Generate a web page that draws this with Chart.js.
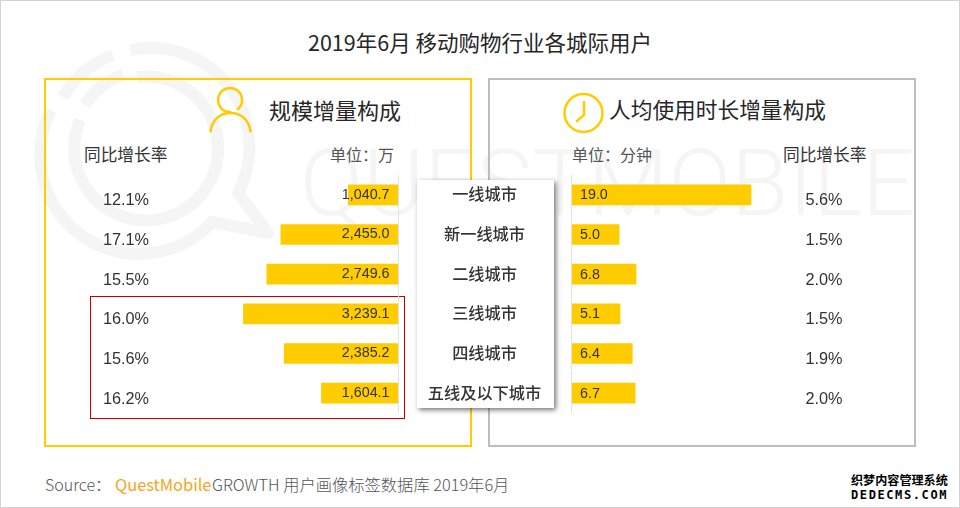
<!DOCTYPE html>
<html><head><meta charset="utf-8">
<style>
html,body{margin:0;padding:0;background:#fff}
#page{position:relative;width:960px;height:508px;overflow:hidden;font-family:"Noto Sans CJK SC","Noto Sans",sans-serif;color:#333}
.abs{position:absolute;white-space:nowrap}
canvas{position:absolute}
</style></head><body>
<div id="page">
<svg class="abs" style="left:0;top:0" width="960" height="508" viewBox="0 0 960 508">
 <g fill="none" stroke="#f5f5f5" stroke-width="12">
  <path d="M63 97 A99 99 0 0 1 113 55"/>
  <path d="M130 50 A99 99 0 0 1 238 193 L268 233 L212 222 A99 99 0 0 1 51 110" stroke-linejoin="round"/>
  <path d="M85 105 A74 74 0 0 1 123 75"/>
  <path d="M137 77 A72 72 0 1 1 80 120"/>
 </g>
 <text x="300" y="215" textLength="615" lengthAdjust="spacingAndGlyphs" font-family="Roboto" font-weight="300" font-size="92" fill="#f5f5f5">QUESTMOBILE</text>
</svg>
<div class="abs" style="left:44px;top:78px;width:424px;height:365px;border:2px solid #ffcc00"></div>
<div class="abs" style="left:488px;top:78px;width:424px;height:365px;border:2px solid #bdbdbd"></div>
<div class="abs" style="left:90px;top:296px;width:313px;height:121px;border:1px solid #c00000"></div>
<div class="abs" style="left:0;top:0;width:958px;height:506px;border:1px solid #d4d4d4"></div>
<div class="abs" style="left:0;top:27px;width:960px;text-align:center;font-size:21.5px;line-height:30px;color:#262626">2019年6月 移动购物行业各城际用户</div>
<svg class="abs" style="left:0;top:0" width="960" height="508" viewBox="0 0 960 508">
 <g fill="none" stroke="#ffcc00" stroke-width="2.5" stroke-linecap="round">
  <path d="M238 109 A12 12 0 1 0 230 112"/>
  <path d="M210.500 131.500 C212 120 220 113 230.500 113 C241 113 249 120 250.500 131.500"/>
  <circle cx="583.500" cy="113" r="19"/>
  <path d="M584 102 L584 115 L577 121"/>
 </g>
</svg>
<div class="abs" style="left:269px;top:93px;font-size:22px;line-height:32px;color:#262626">规模增量构成</div>
<div class="abs" style="left:609px;top:93px;font-size:21.7px;line-height:32px;color:#262626">人均使用时长增量构成</div>
<div class="abs" style="left:84px;top:142px;font-size:16.7px;line-height:24px;color:#333">同比增长率</div>
<div class="abs" style="left:330px;top:142px;font-size:16px;line-height:24px;color:#555">单位：万</div>
<div class="abs" style="left:572px;top:142px;font-size:16px;line-height:24px;color:#555">单位：分钟</div>
<div class="abs" style="left:783px;top:142px;font-size:16.7px;line-height:24px;color:#333">同比增长率</div>
<canvas id="left" style="left:60px;top:175px" width="339" height="238"></canvas>
<canvas id="right" style="left:417px;top:175px;z-index:2" width="480" height="238"></canvas>
<div class="abs" style="left:417px;top:180px;width:137px;height:228px;background:#fff;box-shadow:2px 2px 5px rgba(0,0,0,.55);z-index:1"></div>
<div class="abs" style="left:45px;top:472px;font-size:16px;line-height:24px;color:#555;font-weight:300">Source：</div>
<div class="abs" style="left:115px;top:472px;font-size:16.5px;line-height:24px;color:#f5a623;letter-spacing:-.05px">QuestMobile</div>
<div class="abs" style="left:212px;top:472px;font-size:16.3px;line-height:24px;color:#555;font-weight:300">GROWTH 用户画像标签数据库 2019年6月</div>
<div class="abs" style="left:851px;top:472px;font-size:12.1px;line-height:16px;color:#000;font-weight:700">织梦内容管理系统</div>
<div class="abs" style="left:851px;top:488px;font:700 12px/15px 'DejaVu Sans Mono';color:#000;letter-spacing:1.6px">DEDECMS.COM</div>
</div>
<script src="https://cdn.jsdelivr.net/npm/chart.js@4"></script>
<script>
const cities=["一线城市","新一线城市","二线城市","三线城市","四线城市","五线及以下城市"];
const scaleValues=[1040.7,2455.0,2749.6,3239.1,2385.2,1604.1];
const scaleGrowth=["12.1%","17.1%","15.5%","16.0%","15.6%","16.2%"];
const timeValues=[19.0,5.0,6.8,5.1,6.4,6.7];
const timeGrowth=["5.6%","1.5%","2.0%","1.5%","1.9%","2.0%"];
const BAR="#ffcc00",AXIS="#e2e2e2",NUM="14.3px 'Liberation Sans'";

function text(ctx,s,x,y,font,color,align){ctx.save();ctx.font=font;ctx.fillStyle=color;ctx.textAlign=align;ctx.textBaseline="middle";ctx.fillText(s,x,y);ctx.restore();}

const leftPlugin={id:"leftLabels",afterDatasetsDraw(c){
  const x0=c.scales.x.getPixelForValue(0);
  c.getDatasetMeta(0).data.forEach((b,i)=>{
    text(c.ctx,scaleValues[i].toLocaleString("en-US",{minimumFractionDigits:1}),x0-8.5,b.y,NUM,"#333","right");
    text(c.ctx,scaleGrowth[i],x0-272,b.y+6,"16.3px 'Liberation Sans'","#333","center");
  });
}};
const rightPlugin={id:"rightLabels",afterDatasetsDraw(c){
  const x0=c.scales.x.getPixelForValue(0);
  c.getDatasetMeta(0).data.forEach((b,i)=>{
    text(c.ctx,timeValues[i].toFixed(1),x0+8,b.y+0.5,NUM,"#333","left");
    text(c.ctx,timeGrowth[i],x0+252,b.y+6,"16.3px 'Liberation Sans'","#333","center");
    text(c.ctx,cities[i],67.5,b.y-0.5,"500 16.2px 'Noto Sans CJK SC'","#333","center");
  });
}};
function base(reverse,max,pad){return{
  indexAxis:"y",responsive:false,animation:false,
  layout:{padding:pad},
  plugins:{legend:{display:false},tooltip:{enabled:false}},
  scales:{
    x:{display:false,min:0,max:max,reverse:reverse},
    y:{grid:{display:false,drawTicks:false},border:{display:false},ticks:{display:false}}
  }};}
Chart.register({id:"axisLine",afterDatasetsDraw(c){
  const x=c.scales.x.getPixelForValue(0);const a=c.chartArea;
  c.ctx.save();c.ctx.strokeStyle=AXIS;c.ctx.lineWidth=1;c.ctx.beginPath();
  const dx=c.canvas.id==="left"?0.5:-0.5;
  c.ctx.moveTo(x+dx,a.top);c.ctx.lineTo(x+dx,a.bottom);c.ctx.stroke();c.ctx.restore();
}});
new Chart(document.getElementById("left"),{type:"bar",plugins:[leftPlugin],
  data:{labels:cities,datasets:[{data:scaleValues,backgroundColor:BAR,barThickness:20,borderWidth:0}]},
  options:base(true,7084,{left:0,right:1,top:0,bottom:0})});
new Chart(document.getElementById("right"),{type:"bar",plugins:[rightPlugin],
  data:{labels:cities,datasets:[{data:timeValues,backgroundColor:BAR,barThickness:20,borderWidth:0}]},
  options:base(false,34.5,{left:155,right:0,top:0,bottom:0})});
</script>
</body></html>
